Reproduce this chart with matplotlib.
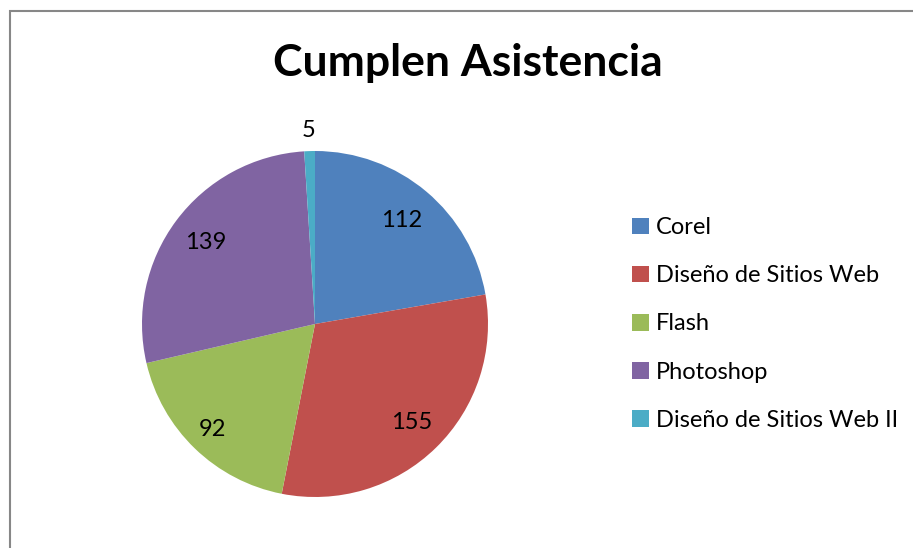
import numpy as np
import matplotlib
matplotlib.use("Agg")
import matplotlib.pyplot as plt
from matplotlib.patches import Rectangle, Patch

categories = ["Corel", "Diseño de Sitios Web", "Flash", "Photoshop",
              "Diseño de Sitios Web II"]
values = [112, 155, 92, 139, 5]
colors = ["#4F81BD", "#C0504D", "#9BBB59", "#8064A2", "#4BACC6"]
# distancia radial de cada etiqueta (fracción del radio)
label_r = [0.78, 0.80, 0.85, 0.79, 1.12]

plt.rcParams["font.family"] = ["Lato", "DejaVu Sans"]

W, H = 913, 548
fig = plt.figure(figsize=(W / 100, H / 100), dpi=100)

# marco del gráfico
fig.add_artist(Rectangle((10 / W, -0.1), 1.2, 1.1 - 11 / H, transform=fig.transFigure,
                         fill=False, edgecolor="#878787", lw=1.5))

cx, cy, r = 315, H - 324, 173
ax = fig.add_axes([(cx - r) / W, (cy - r) / H, 2 * r / W, 2 * r / H])
wedges, _ = ax.pie(values, colors=colors, startangle=90, counterclock=False,
                   radius=1.0, wedgeprops=dict(linewidth=0))
ax.set_xlim(-1, 1)
ax.set_ylim(-1, 1)
ax.set_aspect("equal")
ax.axis("off")

for w, v, lr in zip(wedges, values, label_r):
    ang = np.deg2rad((w.theta1 + w.theta2) / 2)
    ax.text(lr * np.cos(ang), lr * np.sin(ang), str(v), ha="center", va="center",
            fontsize=17, color="black", clip_on=False)

fig.text(468 / W, 1 - 63 / H, "Cumplen Asistencia", ha="center", va="center",
         fontsize=32, fontweight="bold")

handles = [Patch(facecolor=c, edgecolor="none") for c in colors]
fig.legend(handles, categories, loc="center left", bbox_to_anchor=(632 / W, 1 - 324 / H),
           frameon=False, fontsize=17, handlelength=0.7, handleheight=0.7,
           handletextpad=0.3, labelspacing=1.15, borderpad=0, borderaxespad=0)

fig.savefig("out.png", dpi=100)
